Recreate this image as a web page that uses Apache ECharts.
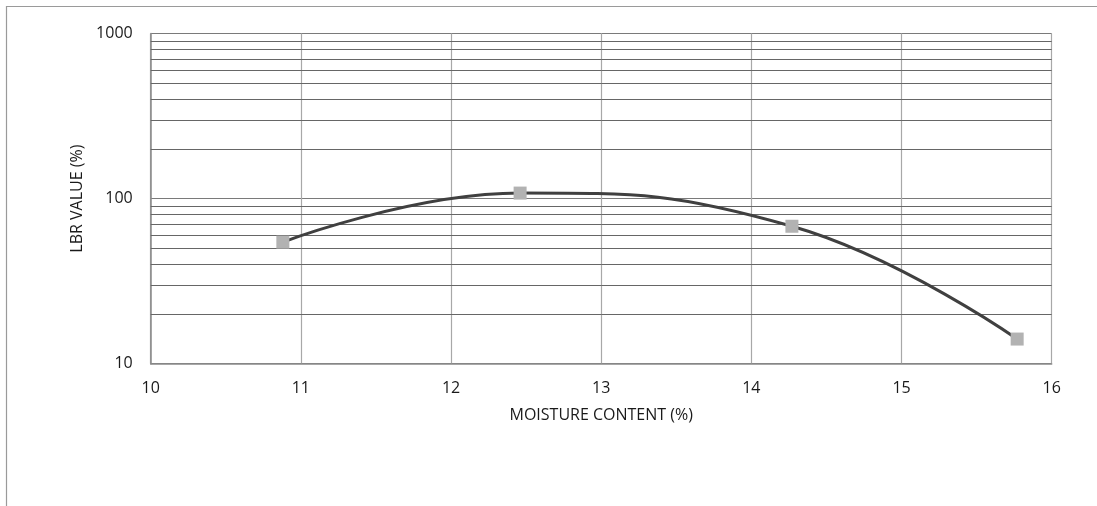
<!DOCTYPE html>
<html>
<head>
<meta charset="utf-8">
<script src="https://cdn.jsdelivr.net/npm/echarts@6/dist/echarts.min.js"></script>
<style>
html,body{margin:0;padding:0;background:#fff;}
#chart{width:1097px;height:506px;}
</style>
</head>
<body>
<div id="chart"></div>
<script>
// Data
var moisture = [10.88, 12.46, 14.27, 15.77];
var lbr = [54.5, 108, 68, 14.1];
var xTicks = [10, 11, 12, 13, 14, 15, 16];
var yMajor = [10, 100, 1000];
var yMinor = [20, 30, 40, 50, 60, 70, 80, 90, 200, 300, 400, 500, 600, 700, 800, 900];
var xName = 'MOISTURE CONTENT (%)';
var yName = 'LBR VALUE (%)';

var FONT = '"Open Sans", sans-serif';
var chart = echarts.init(document.getElementById('chart'), null, {renderer: 'canvas'});

var points = moisture.map(function (x, i) { return [x, lbr[i]]; });

chart.setOption({
  animation: false,
  backgroundColor: '#ffffff',
  graphic: [{
    type: 'rect',
    shape: {x: 6.5, y: 6.5, width: 1200, height: 600},
    style: {fill: 'none', stroke: '#9a9a9a', lineWidth: 1.2},
    silent: true,
    z: -10
  }],
  grid: {left: 150.7, top: 33.5, right: 45.3, bottom: 142.3, containLabel: false},
  xAxis: {
    type: 'value',
    min: xTicks[0],
    max: xTicks[xTicks.length - 1],
    interval: 1,
    name: xName,
    nameLocation: 'middle',
    nameGap: 44,
    nameTextStyle: {fontFamily: FONT, fontSize: 16, color: '#1a1a1a'},
    axisLine: {show: true, lineStyle: {color: '#8a8a8a', width: 1.5}},
    axisTick: {show: false},
    axisLabel: {fontFamily: FONT, fontSize: 16, color: '#1a1a1a', margin: 17},
    splitLine: {show: true, lineStyle: {color: '#a8a8a8', width: 1.2}}
  },
  yAxis: {
    type: 'log',
    logBase: 10,
    min: yMajor[0],
    max: yMajor[yMajor.length - 1],
    name: yName,
    nameLocation: 'middle',
    nameGap: 64,
    nameRotate: 90,
    nameTextStyle: {fontFamily: FONT, fontSize: 16, color: '#1a1a1a'},
    axisLine: {show: true, lineStyle: {color: '#8a8a8a', width: 1.5}},
    axisTick: {show: false},
    axisLabel: {
      fontFamily: FONT, fontSize: 16, color: '#1a1a1a', margin: 18,
      formatter: function (v) { return String(Math.round(v)); }
    },
    splitLine: {show: true, lineStyle: {color: '#7a7a7a', width: 1}},
    minorTick: {show: false},
    minorSplitLine: {show: false}
  },
  series: [{
    type: 'line',
    data: points,
    smooth: 0.45,
    symbol: 'rect',
    symbolSize: 13,
    itemStyle: {color: '#b2b2b2'},
    lineStyle: {color: '#404040', width: 3},
    z: 5,
    markLine: {
      silent: true,
      symbol: ['none', 'none'],
      label: {show: false},
      lineStyle: {color: '#666666', width: 1, type: 'solid'},
      z: 1,
      data: yMinor.map(function (v) { return {yAxis: v}; })
    }
  }]
});
</script>
</body>
</html>
